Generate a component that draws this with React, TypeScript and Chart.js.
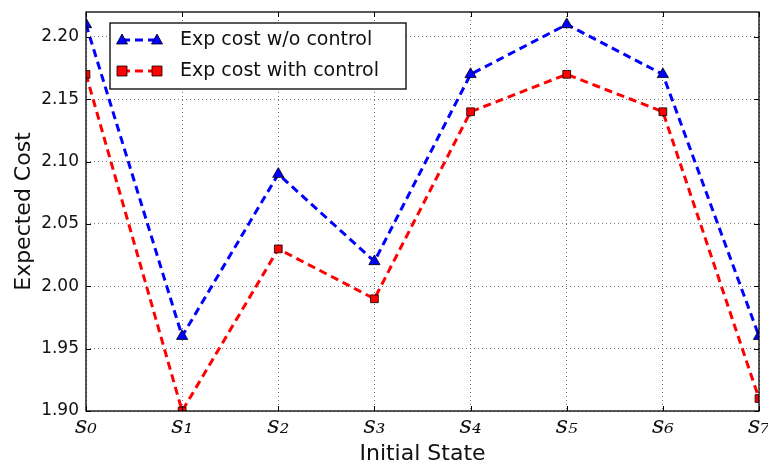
import React, { useEffect, useRef } from "react";
import { Chart, registerables } from "chart.js";

Chart.register(...registerables);

const categories = ["s₀", "s₁", "s₂", "s₃", "s₄", "s₅", "s₆", "s₇"];
const withoutControl = [2.21, 1.96, 2.09, 2.02, 2.17, 2.21, 2.17, 1.96];
const withControl = [2.17, 1.9, 2.03, 1.99, 2.14, 2.17, 2.14, 1.91];
const seriesLabels = ["Exp cost w/o control", "Exp cost with control"];
const yMin = 1.9;
const yMax = 2.22;
const yStep = 0.05;
const xTitle = "Initial State";
const yTitle = "Expected Cost";

const PLOT_LEFT = 86;
const PLOT_RIGHT = 759;
const PLOT_TOP = 12;
const PLOT_BOTTOM = 411;
const W = 768;
const H = 466;

const decorPlugin = {
  id: "decor",
  afterDraw(chart: any) {
    const ctx = chart.ctx;
    const a = chart.chartArea;
    const xs = chart.scales.x;
    const ys = chart.scales.y;
    ctx.save();
    // inward ticks
    ctx.strokeStyle = "#000";
    ctx.lineWidth = 1;
    ctx.setLineDash([]);
    ctx.beginPath();
    for (let i = 0; i < categories.length; i++) {
      const px = Math.round(xs.getPixelForValue(i)) + 0.5;
      ctx.moveTo(px, a.bottom);
      ctx.lineTo(px, a.bottom - 5);
      ctx.moveTo(px, a.top);
      ctx.lineTo(px, a.top + 5);
    }
    for (const t of ys.ticks) {
      if (t.label === "") continue;
      const py = Math.round(ys.getPixelForValue(t.value)) + 0.5;
      ctx.moveTo(a.left, py);
      ctx.lineTo(a.left + 5, py);
      ctx.moveTo(a.right, py);
      ctx.lineTo(a.right - 5, py);
    }
    ctx.stroke();
    // border
    ctx.lineWidth = 1.3;
    ctx.strokeRect(a.left, a.top, a.right - a.left, a.bottom - a.top);

    // titles
    ctx.fillStyle = "#111";
    ctx.font = "22px 'DejaVu Sans'";
    ctx.textAlign = "center";
    ctx.textBaseline = "middle";
    ctx.fillText(xTitle, (a.left + a.right) / 2, 454);
    ctx.save();
    ctx.translate(24, (a.top + a.bottom) / 2);
    ctx.rotate(-Math.PI / 2);
    ctx.fillText(yTitle, 0, 0);
    ctx.restore();

    // legend
    const bx = 110, by = 23, bw = 296, bh = 66;
    ctx.fillStyle = "#fff";
    ctx.fillRect(bx, by, bw, bh);
    ctx.strokeStyle = "#000";
    ctx.lineWidth = 1.3;
    ctx.strokeRect(bx, by, bw, bh);
    const rows = [
      { label: seriesLabels[0], color: "#0000ff", shape: "triangle", y: 40 },
      { label: seriesLabels[1], color: "#ff0000", shape: "rect", y: 71 },
    ];
    for (const r of rows) {
      ctx.strokeStyle = r.color;
      ctx.lineWidth = 3;
      ctx.setLineDash([8, 5]);
      ctx.beginPath();
      ctx.moveTo(122, r.y);
      ctx.lineTo(157, r.y);
      ctx.stroke();
      ctx.setLineDash([]);
      for (const mx of [122, 157]) {
        ctx.fillStyle = r.color;
        ctx.strokeStyle = "#000";
        ctx.lineWidth = 0.8;
        ctx.beginPath();
        if (r.shape === "triangle") {
          ctx.moveTo(mx, r.y - 6);
          ctx.lineTo(mx + 5.5, r.y + 4);
          ctx.lineTo(mx - 5.5, r.y + 4);
          ctx.closePath();
        } else {
          ctx.rect(mx - 5, r.y - 5, 10, 10);
        }
        ctx.fill();
        ctx.stroke();
      }
      ctx.fillStyle = "#111";
      ctx.font = "19px 'DejaVu Sans'";
      ctx.textAlign = "left";
      ctx.textBaseline = "middle";
      ctx.fillText(r.label, 180, r.y);
    }
    ctx.restore();
  },
};

export default function App() {
  const ref = useRef<HTMLCanvasElement | null>(null);
  useEffect(() => {
    document.body.style.margin = "0";
    const canvas = ref.current!;
    const chart = new Chart(canvas, {
      type: "line",
      data: {
        labels: categories,
        datasets: [
          {
            label: seriesLabels[0],
            data: withoutControl,
            borderColor: "#0000ff",
            backgroundColor: "#0000ff",
            borderWidth: 3,
            borderDash: [8, 5],
            pointStyle: "triangle",
            pointRadius: 6.5,
            pointBorderColor: "#000",
            pointBorderWidth: 0.8,
            pointBackgroundColor: "#0000ff",
            tension: 0,
            fill: false,
            clip: 0,
          } as any,
          {
            label: seriesLabels[1],
            data: withControl,
            borderColor: "#ff0000",
            backgroundColor: "#ff0000",
            borderWidth: 3,
            borderDash: [8, 5],
            pointStyle: "rect",
            pointRadius: 5.5,
            pointBorderColor: "#000",
            pointBorderWidth: 0.8,
            pointBackgroundColor: "#ff0000",
            tension: 0,
            fill: false,
            clip: 0,
          } as any,
        ],
      },
      options: {
        animation: false,
        responsive: false,
        maintainAspectRatio: false,
        layout: {
          padding: { top: PLOT_TOP, right: W - PLOT_RIGHT, left: 0, bottom: 0 },
        },
        plugins: {
          legend: { display: false },
          tooltip: { enabled: false },
        },
        scales: {
          x: {
            type: "category",
            offset: false,
            grid: {
              display: true,
              color: "#777",
              lineWidth: 1,
              drawTicks: false,
            } as any,
            border: { display: false, dash: [1, 3] } as any,
            ticks: {
              color: "#111",
              font: { family: "'DejaVu Serif'", style: "italic", size: 24 },
              padding: 1,
              maxRotation: 0,
              autoSkip: false,
            },
            afterFit(scale: any) {
              scale.height = H - PLOT_BOTTOM;
              scale.paddingLeft = 0;
              scale.paddingRight = 0;
            },
          },
          y: {
            min: yMin,
            max: yMax,
            grid: {
              display: true,
              color: (c: any) => (c.tick && c.tick.label === "" ? "rgba(0,0,0,0)" : "#777"),
              lineWidth: 1,
              drawTicks: false,
            },
            border: { display: false, dash: [1, 3] } as any,
            ticks: {
              stepSize: yStep,
              color: "#111",
              font: { family: "'DejaVu Sans'", size: 17 },
              padding: 7,
              callback: (v: any) => {
                const n = Number(v);
                const k = (n - yMin) / yStep;
                if (Math.abs(k - Math.round(k)) > 1e-6) return "";
                return n.toFixed(2);
              },
            },
            afterFit(scale: any) {
              scale.width = PLOT_LEFT;
              scale.paddingTop = 0;
              scale.paddingBottom = 0;
            },
          },
        },
      },
      plugins: [decorPlugin],
    } as any);
    return () => chart.destroy();
  }, []);
  return (
    <div style={{ position: "absolute", left: 0, top: 0, width: W, height: H, background: "#fff" }}>
      <canvas ref={ref} width={W} height={H} style={{ width: W, height: H, display: "block" }} />
    </div>
  );
}
